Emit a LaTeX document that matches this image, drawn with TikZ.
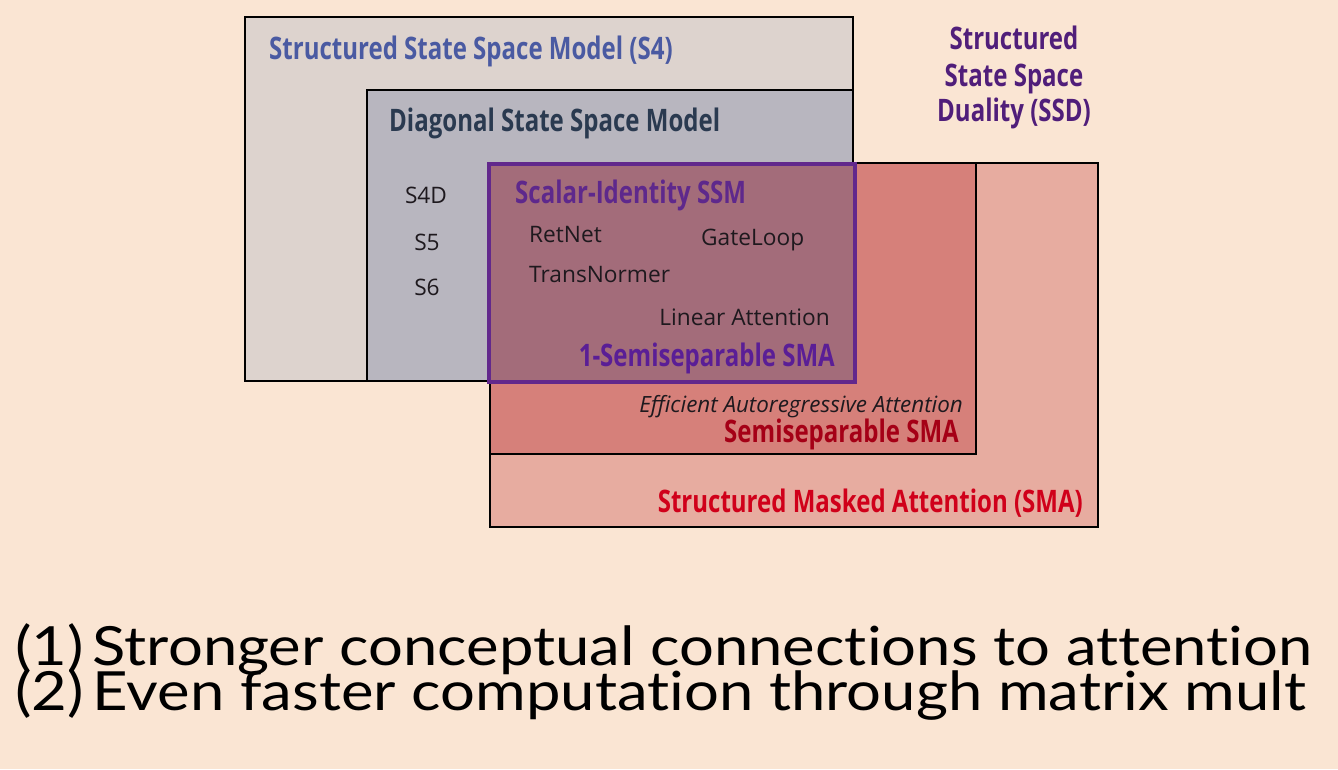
\documentclass[tikz,border=0pt]{standalone}
\usepackage{fontspec}
\setmainfont{Open Sans}
\newfontfamily\condfont{Open Sans}[FakeStretch=0.775]
\newfontfamily\bottomfont{Lato}[FakeStretch=1.14, Ligatures=NoCommon]
\definecolor{bgc}{RGB}{250,229,211}
\definecolor{sfourfill}{RGB}{221,211,206}
\definecolor{dssmfill}{RGB}{184,182,191}
\definecolor{smafill}{RGB}{231,172,160}
\definecolor{semifill}{RGB}{214,128,122}
\definecolor{scalarfill}{RGB}{163,108,122}
\definecolor{purpleedge}{RGB}{98,40,140}
\definecolor{sfourtxt}{RGB}{74,90,162}
\definecolor{dssmtxt}{RGB}{42,58,80}
\definecolor{scalartxt}{RGB}{94,40,140}
\definecolor{onesemitxt}{RGB}{90,30,150}
\definecolor{semitxt}{RGB}{165,0,22}
\definecolor{smatxt}{RGB}{208,0,26}
\definecolor{ssdtxt}{RGB}{80,30,122}
\definecolor{plaintxt}{RGB}{30,25,30}
\tikzset{
  boxline/.style={draw=black, line width=2pt},
  headtxt/.style={inner sep=0pt, font=\condfont\bfseries\fontsize{31}{33}\selectfont},
  labeltxt/.style={inner sep=0pt, text=plaintxt, font=\fontsize{22.7}{25}\selectfont},
  bottomtxt/.style={inner sep=0pt, text=black, font=\bottomfont\fontsize{54}{56}\selectfont},
}
\begin{document}
\begin{tikzpicture}[x=1pt,y=-1pt]
\fill[bgc] (0,0) rectangle (1338,769);
\useasboundingbox (0,0) rectangle (1338,769);
% boxes
\draw[boxline, fill=sfourfill] (245,17) rectangle (853,381);
\draw[boxline, fill=dssmfill] (367,90) rectangle (853,381);
\draw[boxline, fill=smafill] (490,163) rectangle (1098,527);
\draw[boxline, fill=semifill] (490,163) rectangle (976,454);
\draw[draw=purpleedge, line width=3.5pt, fill=scalarfill] (489,164) rectangle (855,382);
% titles
\node[headtxt, text=sfourtxt, anchor=base west] (s4t) at (269,59) {Structured State Space Model (S4)};
\node[headtxt, text=dssmtxt, anchor=base west] (dssmt) at (389,131) {Diagonal State Space Model};
\node[headtxt, text=scalartxt, anchor=base west] (scalart) at (515,203) {Scalar-Identity SSM};
\node[headtxt, text=onesemitxt, anchor=base east] (onesemit) at (835,366) {1-Semiseparable SMA};
\node[headtxt, text=semitxt, anchor=base east] (semit) at (959,442) {Semiseparable SMA};
\node[headtxt, text=smatxt, anchor=base east] (smat) at (1083,512) {Structured Masked Attention (SMA)};
\node[headtxt, text=ssdtxt, anchor=base] (ssda) at (1014,49) {Structured};
\node[headtxt, text=ssdtxt, anchor=base] (ssdb) at (1014,86) {State Space};
\node[headtxt, text=ssdtxt, anchor=base] (ssdc) at (1014,121) {Duality (SSD)};
% labels
\node[labeltxt, anchor=base] (s4d) at (426,203) {S4D};
\node[labeltxt, anchor=base] (s5) at (427,250) {S5};
\node[labeltxt, anchor=base] (s6) at (427,295) {S6};
\node[labeltxt, anchor=base west] (retnet) at (529,242) {RetNet};
\node[labeltxt, anchor=base west] (gateloop) at (701,245) {GateLoop};
\node[labeltxt, anchor=base west] (transnormer) at (529,282) {TransNormer};
\node[labeltxt, anchor=base east] (linatt) at (830,325) {Linear Attention};
\node[labeltxt, anchor=base east, font=\itshape\fontsize{22.4}{24}\selectfont] (effatt) at (963,412) {Efficient Autoregressive Attention};
% bottom
\node[bottomtxt, anchor=base west] (line1) at (15,665) {(1)\,Stronger conceptual connections to attention};
\node[bottomtxt, anchor=base west] (line2) at (15,710) {(2)\,Even faster computation through matrix mult};
\end{tikzpicture}
\end{document}
